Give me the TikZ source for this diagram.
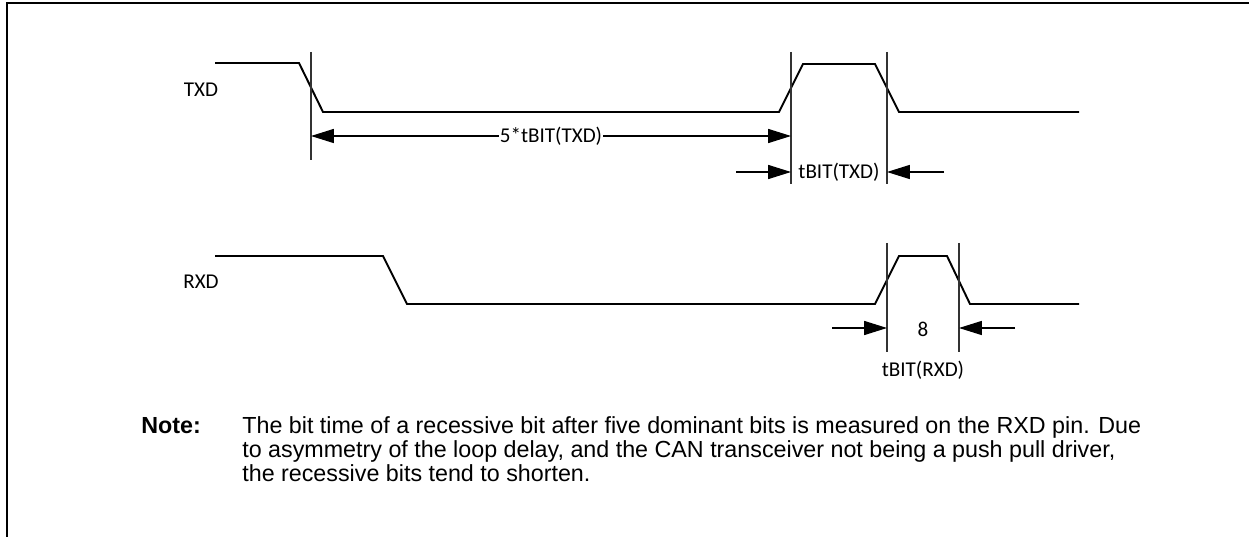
\documentclass[tikz,border=0pt]{standalone}
\usepackage{fontspec}
\setmainfont{Carlito}
\newfontfamily\notefont{Liberation Sans}
\usetikzlibrary{arrows.meta, positioning}

\begin{document}
\begin{tikzpicture}[
    x=0.02cm, y=-0.02cm,
    signal/.style={line width=1.1pt, line join=miter},
    marker/.style={line width=0.6pt, draw=black!80},
    dim/.style={line width=0.6pt, -{Triangle[length=13pt, width=8pt]}},
    lbl/.style={font=\fontsize{12}{14}\selectfont, inner sep=0.5pt},
    note/.style={font=\notefont\fontsize{13.25}{15}\selectfont, anchor=base west, inner sep=0pt}
]
    \useasboundingbox (0,0) rectangle (1249,537);

    % Frame (top and left edge only)
    \draw[line width=1.2pt] (7,537) -- (7,3) -- (1249,3);

    % Signal names
    \node[lbl] (txd) at (201,90) {TXD};
    \node[lbl] (rxd) at (201,282) {RXD};

    % TXD waveform
    \draw[signal] (215,63) -- (299,63) -- (323,112) -- (779,112) -- (803,64)
        -- (875,64) -- (899,112) -- (1079,112);

    % RXD waveform
    \draw[signal] (215,256) -- (383,256) -- (407,304) -- (875,304) -- (899,256)
        -- (947,256) -- (970,304) -- (1079,304);

    % Marker lines
    \coordinate (m1) at (311,136);
    \coordinate (m2) at (791,136);
    \coordinate (m3) at (887,172);
    \coordinate (m2b) at (791,172);
    \coordinate (r1) at (887,328);
    \coordinate (r2) at (959,328);
    \draw[marker] (311,52) -- (311,160);
    \draw[marker] (791,52) -- (791,184);
    \draw[marker] (887,52) -- (887,184);
    \draw[marker] (887,243) -- (887,352);
    \draw[marker] (959,243) -- (959,352);

    % 5 bit times on TXD
    \node[lbl] (five) at (551,136) {5*tBIT(TXD)};
    \draw[dim] (five.west) -- (m1);
    \draw[dim] (five.east) -- (m2);

    % one bit time on TXD
    \node[lbl] (tbittx) at (839,172) {tBIT(TXD)};
    \coordinate (tx1) at (736,172);
    \coordinate (tx2) at (944,172);
    \draw[dim] (tx1) -- (m2b);
    \draw[dim] (tx2) -- (m3);

    % one bit time on RXD
    \node[lbl] (eight) at (923,329) {8};
    \node[lbl] (tbitrx) at (923,370) {tBIT(RXD)};
    \coordinate (rx1) at (832,328);
    \coordinate (rx2) at (1015,328);
    \draw[dim] (rx1) -- (r1);
    \draw[dim] (rx2) -- (r2);

    % Note
    \node[note, font=\notefont\bfseries\fontsize{13.25}{15}\selectfont] (notehead) at (141,433) {Note:};
    \node[note] (note1) at (242,433) {The bit time of a recessive bit after five dominant bits is measured on the RXD pin. Due};
    \node[note] (note2) at (242,457) {to asymmetry of the loop delay, and the CAN transceiver not being a push pull driver,};
    \node[note] (note3) at (242,481) {the recessive bits tend to shorten.};
\end{tikzpicture}
\end{document}
